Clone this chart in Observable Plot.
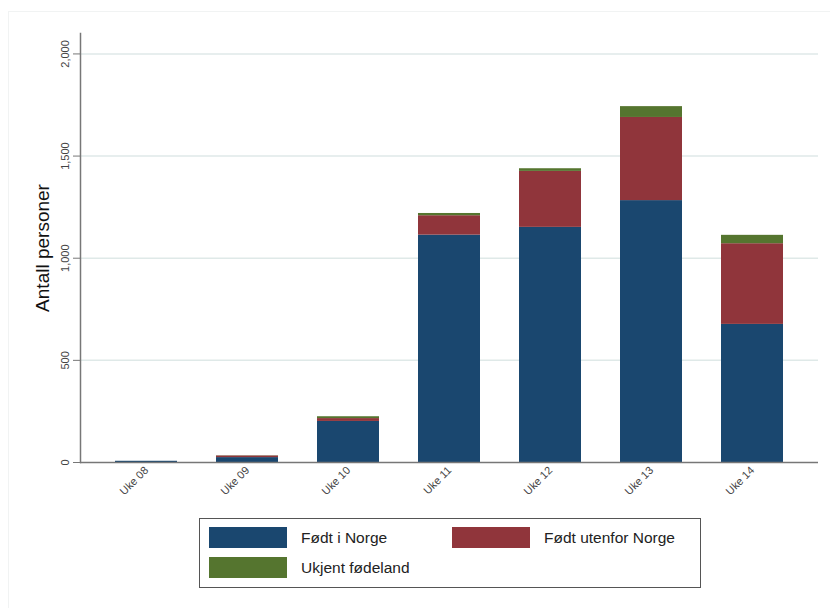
<!DOCTYPE html>
<html>
<head>
<meta charset="utf-8">
<script src="https://cdn.jsdelivr.net/npm/d3@7"></script>
<script src="https://cdn.jsdelivr.net/npm/@observablehq/plot@0.6"></script>
<style>
  html, body { margin: 0; padding: 0; background: #fff; }
  #fig { position: relative; width: 830px; height: 608px; overflow: hidden;
         font-family: "Liberation Sans", Arial, sans-serif; }
  #frame { position: absolute; left: 8px; top: 11px; width: 840px; height: 620px;
           border: 1px solid #f1f3f3; box-sizing: border-box; }
  #chart { position: absolute; left: 0; top: 0; }
  #legend { position: absolute; left: 199px; top: 518px; width: 502px; height: 70px;
            border: 1.5px solid #555; box-sizing: border-box; background: #fff; }
  .item { position: absolute; display: flex; align-items: center; font-size: 15.5px; color: #222; }
  .sw { width: 78px; height: 21px; margin-right: 14px; }
</style>
</head>
<body>
<div id="fig">
  <div id="frame"></div>
  <div id="chart"></div>
  <div id="legend"></div>
</div>
<script>
// Weekly counts, stacked by country of birth
const weeks = ["Uke 08", "Uke 09", "Uke 10", "Uke 11", "Uke 12", "Uke 13", "Uke 14"];
const fodtINorge = [6, 24, 201, 1113, 1151, 1282, 676];
const fodtUtenforNorge = [0, 8, 14, 95, 274, 407, 395];
const ukjentFodeland = [0, 1, 9, 11, 13, 53, 41];

const seriesNames = ["Født i Norge", "Født utenfor Norge", "Ukjent fødeland"];
const seriesColors = ["#1a476f", "#90353b", "#55752f"];
const yTicks = [0, 500, 1000, 1500, 2000];

const seriesValues = [fodtINorge, fodtUtenforNorge, ukjentFodeland];
const rows = [];
weeks.forEach((w, i) => {
  seriesNames.forEach((s, j) => rows.push({uke: w, gruppe: s, antall: seriesValues[j][i]}));
});

const fmt = d3.format(",");

const chart = Plot.plot({
  width: 830,
  height: 510,
  marginLeft: 80,
  marginRight: 12,
  marginTop: 33,
  marginBottom: 48,
  style: {fontFamily: "'Liberation Sans', Arial, sans-serif", background: "transparent"},
  x: {domain: weeks, paddingInner: 0.39, paddingOuter: 0.333},
  y: {domain: [0, 2100]},
  color: {domain: seriesNames, range: seriesColors},
  marks: [
    Plot.gridY([500, 1000, 1500, 2000], {stroke: "#dfe9e8", strokeOpacity: 1, strokeWidth: 1.5}),
    Plot.barY(rows, {x: "uke", y: "antall", fill: "gruppe", order: seriesNames}),
    Plot.ruleY([0], {stroke: "#777", strokeWidth: 1.5}),
    Plot.frame({anchor: "left", stroke: "#777", strokeWidth: 1.5}),
    Plot.axisY({
      ticks: yTicks, tickFormat: fmt, tickSize: 7, tickPadding: 5,
      tickRotate: -90, fontSize: 11, color: "#444",
      label: "Antall personer", labelAnchor: "center", labelArrow: "none", labelOffset: 45
    }),
    Plot.axisX({tickSize: 0, tickRotate: -45, tickPadding: 6, fontSize: 11, color: "#444", label: null})
  ]
});

// Axis title styling
chart.querySelectorAll("[aria-label='y-axis label'] text").forEach(t => {
  t.setAttribute("font-size", "19");
  t.style.fill = "#111";
});
chart.querySelectorAll("[aria-label='y-axis tick']").forEach(p => {
  p.setAttribute("stroke", "#777");
});

document.getElementById("chart").appendChild(chart);

// Legend
const legend = document.getElementById("legend");
const pos = [[9, 8], [252, 8], [9, 38]];
seriesNames.forEach((name, i) => {
  const it = document.createElement("div");
  it.className = "item";
  it.style.left = pos[i][0] + "px";
  it.style.top = pos[i][1] + "px";
  const sw = document.createElement("div");
  sw.className = "sw";
  sw.style.background = seriesColors[i];
  const tx = document.createElement("span");
  tx.textContent = name;
  it.appendChild(sw);
  it.appendChild(tx);
  legend.appendChild(it);
});
</script>
</body>
</html>
